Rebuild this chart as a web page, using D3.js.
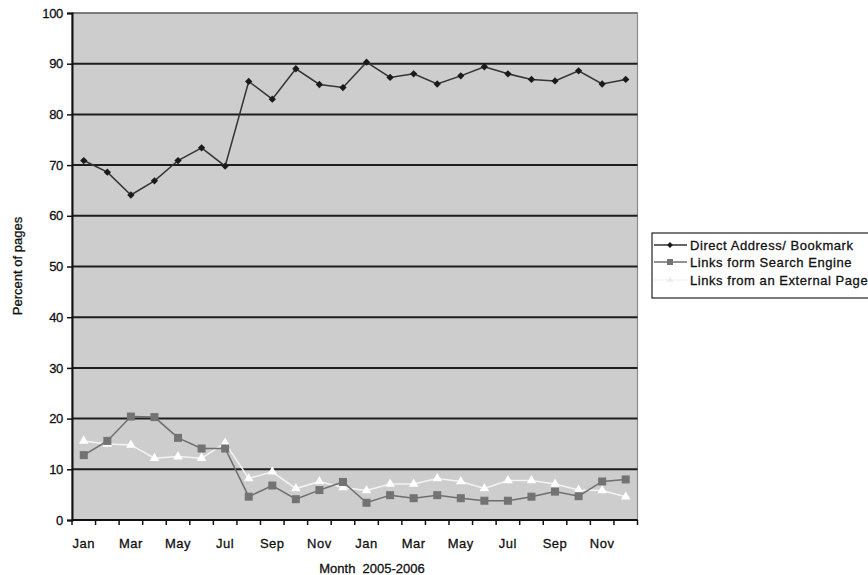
<!DOCTYPE html>
<html><head><meta charset="utf-8">
<script src="https://cdn.jsdelivr.net/npm/d3@7"></script>
<style>body{margin:0;background:#fff;} text{font-family:"Liberation Sans",Arial,sans-serif;}</style>
</head><body><svg id="c" width="868" height="575"></svg>
<script>
const months = ["Jan","Feb","Mar","Apr","May","Jun","Jul","Aug","Sep","Oct","Nov","Dec",
                "Jan","Feb","Mar","Apr","May","Jun","Jul","Aug","Sep","Oct","Nov","Dec"];
const directBookmark = [70.9,68.6,64.1,66.9,70.9,73.4,69.8,86.5,83.0,89.0,85.9,85.3,
                        90.3,87.3,88.0,86.0,87.6,89.4,88.0,86.9,86.6,88.6,86.0,86.9];
const searchEngine = [12.8,15.6,20.4,20.3,16.2,14.1,14.1,4.6,6.8,4.1,5.9,7.5,
                      3.4,4.9,4.3,4.9,4.3,3.8,3.8,4.6,5.6,4.7,7.6,8.0];
const externalPage = [15.6,15.0,14.8,12.2,12.5,12.2,15.2,8.2,9.5,6.2,7.6,6.4,
                      5.8,7.1,7.1,8.2,7.6,6.2,7.8,7.8,7.1,5.9,5.8,4.6];
const yTicks = [0,10,20,30,40,50,60,70,80,90,100];
const seriesNames = ["Direct Address/ Bookmark","Links form Search Engine","Links from an External Page"];

const svg = d3.select("#c");
const L=72, R=637.5, T=13, B=520;
const idx = d3.range(months.length);
const x = d3.scaleBand().domain(idx).range([L,R]);
const y = d3.scaleLinear().domain([0,100]).range([B,T]);
const cx = i => x(i)+x.bandwidth()/2;
const txt = s => s.attr("fill","#111").attr("stroke","#111").attr("stroke-width",0.3);

svg.append("rect").attr("x",L).attr("y",T).attr("width",R-L).attr("height",B-T)
  .attr("fill","#cdcdcd").attr("stroke","#8a8a8a").attr("stroke-width",1.2);

// gridlines
svg.append("g").selectAll("line").data(yTicks.filter(v=>v>0&&v<100)).join("line")
  .attr("x1",L).attr("x2",R).attr("y1",d=>y(d)).attr("y2",d=>y(d))
  .attr("stroke","#1e1e1e").attr("stroke-width",2);
svg.append("line").attr("x1",L).attr("x2",R).attr("y1",y(100)).attr("y2",y(100)).attr("stroke","#6a6a6a").attr("stroke-width",1.5);

// y axis
const ya = svg.append("g").attr("transform",`translate(${L},0)`)
  .call(d3.axisLeft(y).tickValues(yTicks).tickSize(5).tickPadding(4));
ya.select(".domain").attr("stroke","#111").attr("stroke-width",2);
ya.selectAll(".tick line").attr("stroke","#111").attr("stroke-width",1.5);
ya.selectAll("text").attr("font-size",13).attr("font-family","Liberation Sans, Arial").attr("letter-spacing","-0.3").call(txt);

// x axis
const xa = svg.append("g").attr("transform",`translate(0,${B})`);
xa.append("line").attr("x1",L).attr("x2",R).attr("stroke","#111").attr("stroke-width",2);
xa.selectAll("line.t").data(d3.range(months.length+1)).join("line").attr("class","t")
  .attr("x1",i=>L+i*x.step()).attr("x2",i=>L+i*x.step()).attr("y1",0).attr("y2",5)
  .attr("stroke","#111").attr("stroke-width",1.5);
xa.selectAll("text").data(idx.filter(i=>i%2===0)).join("text")
  .attr("x",cx).attr("y",28).attr("text-anchor","middle").attr("font-size",13).attr("letter-spacing","0.5")
  .text(i=>months[i]).call(txt);

svg.append("text").attr("x",372).attr("y",573).attr("text-anchor","middle").attr("font-size",13)
  .attr("xml:space","preserve").text("Month  2005-2006").call(txt);
svg.append("text").attr("transform",`translate(22,266) rotate(-90)`).attr("text-anchor","middle")
  .attr("font-size",13).text("Percent of pages").call(txt);

const line = d3.line().x((d,i)=>cx(i)).y(d=>y(d));
// external (white)
svg.append("path").datum(externalPage).attr("d",line).attr("fill","none").attr("stroke","#f4f4f4").attr("stroke-width",1.5);
svg.append("g").selectAll("path").data(externalPage).join("path")
  .attr("d",d3.symbol(d3.symbolTriangle,40)()).attr("transform",(d,i)=>`translate(${cx(i)},${y(d)})`).attr("fill","#ffffff");
// search (grey)
svg.append("path").datum(searchEngine).attr("d",line).attr("fill","none").attr("stroke","#6e6e6e").attr("stroke-width",1.5);
svg.append("g").selectAll("rect").data(searchEngine).join("rect")
  .attr("x",(d,i)=>cx(i)-4).attr("y",d=>y(d)-4).attr("width",8).attr("height",8).attr("fill","#737373");
// direct (dark)
svg.append("path").datum(directBookmark).attr("d",line).attr("fill","none").attr("stroke","#333").attr("stroke-width",1.5);
svg.append("g").selectAll("path").data(directBookmark).join("path")
  .attr("d",d3.symbol(d3.symbolDiamond2,34)()).attr("transform",(d,i)=>`translate(${cx(i)},${y(d)})`).attr("fill","#1a1a1a");

// legend
const lg = svg.append("g");
lg.append("rect").attr("x",652).attr("y",233).attr("width",230).attr("height",65).attr("fill","#fff").attr("stroke","#222").attr("stroke-width",1.2);
const rows=[245,262,280];
const lcol=["#333","#6e6e6e","#f4f4f4"];
rows.forEach((ry,k)=>{
  lg.append("line").attr("x1",654).attr("x2",687).attr("y1",ry).attr("y2",ry).attr("stroke",lcol[k]).attr("stroke-width",1.5);
  lg.append("text").attr("x",690).attr("y",ry+4.5).attr("font-size",13).attr("letter-spacing","0.55").text(seriesNames[k]).call(txt);
});
lg.append("path").attr("d",d3.symbol(d3.symbolDiamond2,22)()).attr("transform",`translate(670,${rows[0]})`).attr("fill","#1a1a1a");
lg.append("rect").attr("x",667).attr("y",rows[1]-3).attr("width",6).attr("height",6).attr("fill","#737373");
lg.append("path").attr("d",d3.symbol(d3.symbolTriangle,20)()).attr("transform",`translate(670,${rows[2]})`).attr("fill","#eee");
</script></body></html>
